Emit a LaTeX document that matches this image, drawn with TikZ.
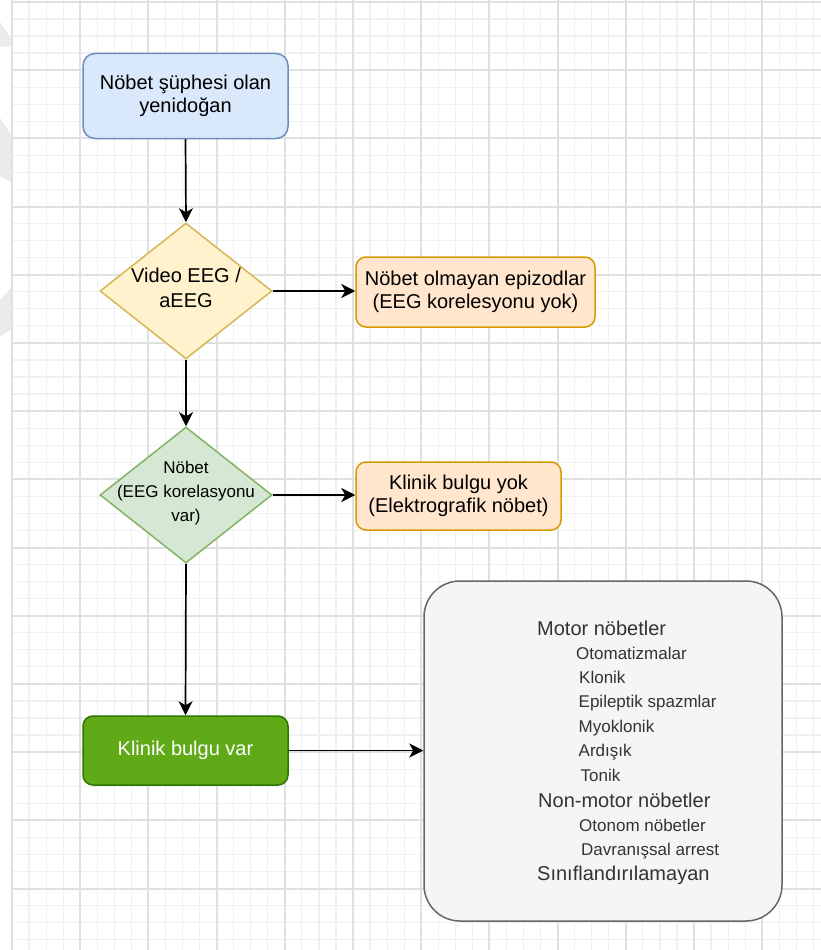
\documentclass[tikz,border=0pt]{standalone}
\usepackage{fontspec}
\setmainfont{Liberation Sans}
\usetikzlibrary{shapes.geometric,arrows.meta}
\definecolor{blueF}{HTML}{DAE8FC}\definecolor{blueS}{HTML}{6C8EBF}
\definecolor{yelF}{HTML}{FFF2CC}\definecolor{yelS}{HTML}{D6B656}
\definecolor{orF}{HTML}{FFE6CC}\definecolor{orS}{HTML}{D79B00}
\definecolor{grF}{HTML}{D5E8D4}\definecolor{grS}{HTML}{82B366}
\definecolor{dgF}{HTML}{60A917}\definecolor{dgS}{HTML}{2D7600}
\definecolor{gyF}{HTML}{F5F5F5}\definecolor{gyS}{HTML}{666666}
\definecolor{txtG}{HTML}{333333}
\definecolor{gridMinor}{HTML}{F0F0F0}
\definecolor{gridMajor}{HTML}{E0E0E0}
\definecolor{wmark}{HTML}{EBEBEB}
\begin{document}
\begin{tikzpicture}[x=1pt,y=-1pt,
  fbox/.style={draw, rounded corners=#1, line width=1.5pt, inner sep=0pt, align=center, font=\fontsize{20}{23}\selectfont},
  fbox/.default=10,
  dia/.style={diamond, draw, line width=1.5pt, inner sep=0pt, minimum width=172, minimum height=136},
  dtxt/.style={inner sep=0pt, align=center},
  arr/.style={-{Stealth[length=14pt,width=14pt,inset=4pt]}, line width=1.7pt, black},
  bxhead/.style={anchor=base west, inner sep=0pt, text=txtG, font=\fontsize{20}{23}\selectfont},
  bxitem/.style={anchor=base west, inner sep=0pt, text=txtG, font=\fontsize{17}{20}\selectfont},
  gminor/.style={draw=gridMinor, line width=1.2pt},
  gmajor/.style={draw=gridMajor, line width=2pt}]
\useasboundingbox (0,0) rectangle (821,950);
\fill[white] (0,0) rectangle (821,950);
% faint watermark pieces at the left edge
\fill[wmark] (0,22) -- (11,38) -- (11,46) -- (0,47) -- cycle;
\fill[wmark] (0,118) -- (11,134) -- (11,182) -- (0,176) -- cycle;
\fill[wmark] (0,300) -- (11,288) -- (11,330) -- (0,336) -- cycle;
% grid
\begin{scope}
\clip (11,0) rectangle (821,950);
\foreach \k in {0,...,48} {\draw[gminor] ({12+\k*17.05},0) -- ({12+\k*17.05},950);}
\foreach \k in {0,...,55} {\draw[gminor] (12,{1.9+\k*17.05}) -- (821,{1.9+\k*17.05});}
\foreach \k in {0,...,12} {\draw[gmajor] ({12+\k*68.2},0) -- ({12+\k*68.2},950);}
\foreach \k in {0,...,13} {\draw[gmajor] (12,{1.9+\k*68.2}) -- (821,{1.9+\k*68.2});}
\end{scope}
% nodes
\node[fbox=12, fill=blueF, draw=blueS, minimum width=205, minimum height=85] (start) at (185.5,96) {Nöbet şüphesi olan\\yenidoğan};
\node[dia, fill=yelF, draw=yelS] (d1) at (186,291) {};
\node[dtxt, font=\fontsize{20}{25}\selectfont] (d1t) at (186,288) {Video EEG /\\aEEG};
\node[fbox, fill=orF, draw=orS, minimum width=239, minimum height=70] (b2) at (475.5,292) {Nöbet olmayan epizodlar\\(EEG korelesyonu yok)};
\node[dia, fill=grF, draw=grS] (d2) at (186,495) {};
\node[dtxt, font=\fontsize{17}{24}\selectfont] (d2t) at (186,493) {Nöbet\\(EEG korelasyonu\\var)};
\node[fbox, fill=orF, draw=orS, minimum width=205, minimum height=68] (b3) at (458.5,496) {Klinik bulgu yok\\(Elektrografik nöbet)};
\node[fbox, fill=dgF, draw=dgS, text=white, minimum width=205, minimum height=69] (g) at (185.5,750.5) {Klinik bulgu var};
\node[fbox=36, fill=gyF, draw=gyS, minimum width=358, minimum height=340] (big) at (603,751) {};
% text inside the grey box
\node[bxhead] (t1) at (537,635.2) {Motor nöbetler};
\node[bxitem] (t2) at (576,659.1) {Otomatizmalar};
\node[bxitem] (t3) at (579,683.5) {Klonik};
\node[bxitem] (t4) at (578.5,707.9) {Epileptik spazmlar};
\node[bxitem] (t5) at (578.5,732.3) {Myoklonik};
\node[bxitem] (t6) at (578.5,756.7) {Ardışık};
\node[bxitem] (t7) at (580.5,781.1) {Tonik};
\node[bxhead] (t8) at (538,807.2) {Non-motor nöbetler};
\node[bxitem] (t9) at (579,831.1) {Otonom nöbetler};
\node[bxitem] (t10) at (581,855.1) {Davranışsal arrest};
\node[bxhead] (t11) at (537,880.2) {Sınıflandırılamayan};
% connectors
\draw[arr] (start.south) -- (d1.north);
\draw[arr] (d1.east) -- (d1.east -| b2.west);
\draw[arr] (d1.south) -- (d2.north);
\draw[arr] (d2.east) -- (d2.east -| b3.west);
\draw[arr] (d2.south) -- (g.north);
\draw[arr] (g.east) -- (g.east -| big.west);
\end{tikzpicture}
\end{document}
